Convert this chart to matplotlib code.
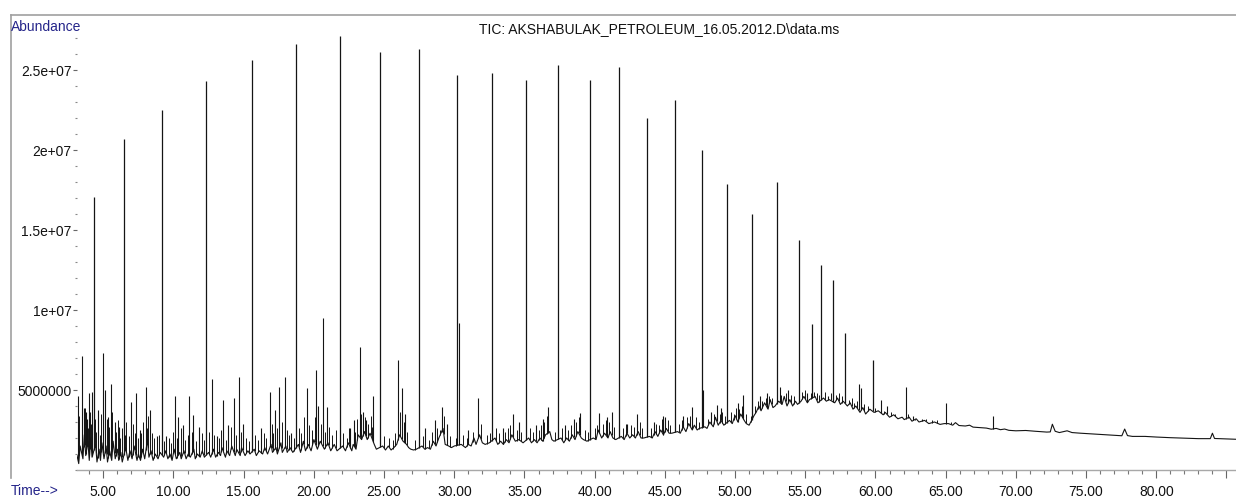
import numpy as np
import matplotlib
matplotlib.use("Agg")
import matplotlib.pyplot as plt
from matplotlib import font_manager
from matplotlib.lines import Line2D
from matplotlib.ticker import MultipleLocator

TITLE = "TIC: AKSHABULAK_PETROLEUM_16.05.2012.D\\data.ms"

# x axis (minutes)
x_ticks = [5, 10, 15, 20, 25, 30, 35, 40, 45, 50, 55, 60, 65, 70, 75, 80, 85]
x_labels = ["5.00", "10.00", "15.00", "20.00", "25.00", "30.00", "35.00", "40.00",
            "45.00", "50.00", "55.00", "60.00", "65.00", "70.00", "75.00", "80.00", ""]
# y axis (abundance)
y_ticks = [5e6, 1e7, 1.5e7, 2e7, 2.5e7]
y_labels = ["5000000", "1e+07", "1.5e+07", "2e+07", "2.5e+07"]

# signal trace: time (min), abundance (millions)
trace_t = [
    3.13, 3.25, 3.35, 3.55, 3.65, 3.75, 3.9, 4.0, 4.1, 4.2, 4.45, 4.55, 4.7, 4.8, 4.9,
    5.05, 5.2, 5.3, 5.45, 5.6, 5.7, 5.85, 6.0, 6.1, 6.25, 6.35, 6.6, 6.75, 6.9, 7.05,
    7.2, 7.4, 7.5, 7.65, 7.8, 7.95, 8.15, 8.25, 8.4, 8.55, 8.7, 8.9, 9.05, 9.3, 9.45,
    9.6, 9.75, 9.9, 10.05, 10.2, 10.45, 10.55, 10.75, 10.9, 11.05, 11.2, 11.45, 11.55,
    11.7, 11.9, 12.05, 12.2, 12.5, 12.65, 12.85, 13.0, 13.2, 13.35, 13.45, 13.7, 13.8,
    14.0, 14.15, 14.4, 14.5, 14.75, 14.85, 15.1, 15.3, 15.45, 15.75, 15.9, 16.1, 16.35,
    16.5, 16.7, 16.95, 17.05, 17.3, 17.4, 17.65, 17.75, 18.0, 18.1, 18.3, 18.5, 18.9,
    19.05, 19.25, 19.4, 19.6, 19.8, 20.0, 20.25, 20.45, 20.75, 21.0, 21.2, 21.45, 21.65,
    22.05, 22.25, 22.45, 22.7, 22.8, 23.0, 23.15, 23.4, 23.6, 23.8, 24.0, 24.3, 24.45,
    24.9, 25.1, 25.3, 25.5, 25.7, 25.9, 26.1, 26.35, 26.6, 26.75, 26.9, 27.1, 27.3,
    27.7, 27.9, 28.1, 28.3, 28.5, 28.7, 28.9, 29.2, 29.35, 29.6, 29.8, 30.0,
    30.5, 30.8, 31.0, 31.2, 31.4, 31.55, 31.8, 32.0, 32.2, 32.5, 32.9, 33.1, 33.3, 33.5,
    33.7, 33.9, 34.1, 34.35, 34.6, 34.9, 35.3, 35.5, 35.7, 35.9, 36.1, 36.3, 36.5, 36.8,
    36.95, 37.1, 37.6, 37.8, 38.0, 38.2, 38.4, 38.6, 38.8, 39.05, 39.2, 39.45, 39.9,
    40.1, 40.25, 40.5, 40.7, 40.95, 41.1, 41.3, 41.5, 41.9, 42.1, 42.3, 42.5, 42.7, 42.9,
    43.1, 43.3, 43.5, 43.9, 44.1, 44.3, 44.5, 44.7, 44.9, 45.1, 45.3, 45.5, 45.9, 46.1,
    46.3, 46.5, 46.7, 46.95, 47.1, 47.3, 47.45, 47.85, 48.0, 48.2, 48.45, 48.6, 48.8,
    49.0, 49.2, 49.6, 49.8, 50.0, 50.2, 50.4, 50.65, 50.8, 51.0, 51.35, 51.5, 51.7,
    51.85, 52.1, 52.35, 52.5, 52.7, 52.85, 53.1, 53.35, 53.5, 53.7, 53.9, 54.1, 54.3,
    54.45, 54.7, 54.9, 55.15, 55.3, 55.7, 55.9, 56.3, 56.5, 56.7, 57.1, 57.3, 57.5, 57.7,
    58.0, 58.2, 58.4, 58.6, 58.9, 59.1, 59.3, 59.6, 59.9,
    60.2, 60.55, 60.7, 61.0, 61.3, 61.6, 61.9, 62.05, 62.4, 62.6, 62.9, 63.1, 63.5, 63.8,
    64.2, 64.6, 64.9, 65.2, 65.5, 65.7, 65.95, 66.4, 66.7, 66.95, 67.4, 67.9, 68.25,
    68.6, 68.9, 69.2, 69.5, 70.0, 70.7, 71.4, 72.2, 72.45, 72.6, 72.8, 73.1, 73.65, 74.0,
    74.6, 75.5, 76.5, 77.2, 77.55, 77.75, 77.95, 78.3, 79.2, 80.0, 81.0, 82.0, 83.0,
    83.85, 84.0, 84.15, 85.0, 85.7,
]
trace_y = [
    0.9, 0.4, 1.5, 0.7, 2.2, 0.9, 1.8, 0.6, 2.0, 0.8, 1.6, 0.5, 1.3, 0.6, 1.7,
    0.7, 1.5, 0.5, 1.2, 0.6, 1.8, 0.7, 1.3, 0.6, 1.1, 0.5, 1.4, 0.6, 1.2, 0.7,
    1.5, 0.6, 1.0, 0.6, 1.3, 0.7, 1.9, 0.8, 1.2, 0.6, 1.0, 0.7, 1.1, 0.8, 1.2,
    0.7, 1.0, 0.6, 1.3, 0.7, 1.1, 0.7, 1.2, 0.7, 1.0, 0.8, 1.3, 0.7,
    1.0, 0.8, 1.2, 0.8, 1.1, 0.8, 1.3, 0.8, 1.1, 0.9, 1.4, 0.8, 1.2,
    0.9, 1.5, 0.9, 1.3, 0.9, 1.4, 0.9, 1.2, 1.0, 1.3, 0.9, 1.2, 1.0,
    1.4, 1.0, 1.6, 1.1, 1.4, 1.0, 1.7, 1.1, 1.5, 1.1, 1.4, 1.1, 1.6,
    1.1, 1.8, 1.2, 1.6, 1.2, 1.9, 1.3, 1.8, 1.3, 1.7, 1.2, 1.6, 1.2,
    1.5, 1.2, 1.7, 1.2, 1.6, 1.3, 2.2, 1.9, 2.4, 1.9, 2.3, 1.6, 1.3,
    1.5, 1.25, 1.5, 1.25, 1.4, 1.6, 2.2, 1.8, 1.6, 1.4, 1.3, 1.25, 1.3,
    1.5, 1.3, 1.4, 1.3, 1.8, 1.5, 2.0, 2.6, 1.6, 1.5, 1.4, 1.5,
    1.6, 1.4, 1.6, 1.5, 2.0, 1.6, 2.2, 1.7, 1.6, 1.7, 2.0, 1.6, 1.8, 1.6,
    1.9, 1.7, 2.2, 1.8, 1.9, 1.7, 2.0, 1.7, 1.9, 1.7, 2.0, 1.8, 2.2, 2.4,
    1.9, 1.8, 2.0, 1.7, 2.0, 1.8, 2.2, 1.9, 2.4, 2.0, 1.9, 1.8, 2.0,
    1.9, 2.5, 2.0, 2.3, 2.0, 2.4, 2.0, 1.9, 2.1, 1.9, 2.3, 2.0, 2.2, 2.0,
    2.4, 2.0, 2.0, 2.1, 2.0, 2.4, 2.1, 2.5, 2.2, 2.6, 2.3, 2.3, 2.4, 2.3,
    2.7, 2.4, 2.9, 2.5, 2.8, 2.5, 2.6, 2.7, 2.6, 3.0, 2.7, 3.3, 2.8,
    3.1, 2.8, 3.1, 2.9, 3.4, 3.0, 3.5, 3.1, 2.9, 2.8, 3.4, 3.6, 4.0,
    3.7, 4.2, 3.8, 4.4, 3.9, 4.0, 4.3, 4.1, 4.6, 4.0, 4.4, 4.0, 4.3,
    4.1, 4.3, 4.6, 4.2, 4.4, 4.6, 4.2, 4.5, 4.3, 4.4, 4.2, 4.5, 4.1, 4.3,
    4.0, 4.2, 3.8, 4.0, 3.6, 3.9, 3.5, 3.8, 3.6,
    3.7, 3.45, 3.6, 3.3, 3.45, 3.2, 3.3, 3.15, 3.3, 3.05, 3.2, 3.0, 3.1, 2.9,
    3.0, 2.85, 2.9, 2.9, 2.8, 2.96, 2.78, 2.75, 2.8, 2.68, 2.65, 2.62, 2.55,
    2.6, 2.52, 2.56, 2.48, 2.45, 2.47, 2.42, 2.37, 2.38, 2.86, 2.42, 2.34, 2.45, 2.34,
    2.3, 2.25, 2.2, 2.16, 2.14, 2.56, 2.15, 2.1, 2.1, 2.06, 2.02, 1.99, 1.96,
    1.96, 2.3, 1.97, 1.94, 1.92,
]

# n-alkane series and other tall peaks: time (min), apex (millions)
major_t = [4.34, 6.47, 9.18, 12.31, 15.59, 18.72, 21.85, 24.7, 27.49, 30.19, 32.69,
           35.11, 37.39, 39.67, 41.73, 43.73, 45.72, 47.64, 49.42, 51.2, 52.98, 54.55,
           55.5, 56.14, 56.95, 57.83, 59.8]
major_h = [17.06, 20.7, 22.5, 24.3, 25.6, 26.6, 27.1, 26.1, 26.3, 24.7, 24.8,
           24.4, 25.3, 24.4, 25.2, 22.0, 23.1, 20.0, 17.9, 16.0, 18.0, 14.4,
           9.1, 12.8, 11.9, 8.56, 6.9]

# medium spikes: time (min), apex (millions)
minor_t = [3.2, 3.46, 3.6, 3.77, 3.85, 3.97, 4.22, 4.6, 4.96, 5.12, 5.35, 5.53, 5.8,
           6.12, 6.97, 7.33, 7.61, 8.04, 8.33, 8.8, 9.5, 10.13, 10.34, 10.7, 11.13,
           11.37, 11.84, 12.74, 13.07, 13.55, 13.9, 14.31, 14.64, 14.93, 16.25, 16.87,
           17.23, 17.54, 17.92, 18.4, 19.49, 20.15, 20.32, 20.63, 20.91, 22.6, 22.85,
           23.28, 23.5, 23.7, 24.23, 26.0, 26.25, 26.5, 27.9, 28.62, 29.1, 29.5, 30.36,
           31.0, 31.71, 33.5, 34.2, 34.6, 35.8, 36.3, 36.7, 37.9, 38.5, 38.95, 40.33,
           40.9, 41.2, 42.3, 43.0, 44.2, 44.9, 45.0, 46.3, 46.9, 47.75, 48.3, 48.7,
           49.0, 50.2, 50.6, 51.8, 52.3, 53.2, 53.8, 55.1, 56.6, 58.8, 59.0, 60.4,
           60.8, 62.17, 62.7, 63.3, 65.0, 68.4]
minor_h = [4.6, 7.1, 3.9, 3.65, 3.2, 4.8, 4.9, 3.75, 7.3, 5.0, 3.3, 5.4, 3.0,
           2.7, 4.27, 4.8, 2.5, 5.2, 3.75, 2.1, 2.1, 4.6, 3.3, 2.8, 4.6,
           3.45, 2.7, 5.67, 2.1, 4.4, 2.8, 4.48, 5.83, 2.9, 2.6, 4.9,
           3.75, 5.2, 5.83, 2.3, 5.1, 6.25, 4.0, 9.5, 3.96, 2.6, 3.1,
           7.7, 3.6, 3.1, 4.6, 6.9, 5.1, 3.5, 2.6, 3.1, 3.96, 2.9, 9.2,
           2.5, 4.5, 2.6, 3.5, 3.0, 2.8, 3.2, 3.96, 2.8, 3.2, 3.54, 3.54,
           3.3, 3.6, 2.9, 3.5, 3.0, 3.4, 3.3, 3.4, 3.96, 5.0, 3.6, 4.06,
           3.9, 4.2, 4.7, 4.6, 4.8, 5.2, 5.0, 4.8, 4.6, 5.4, 5.1, 4.4,
           4.0, 5.2, 3.4, 3.2, 4.2, 3.4]

# low "grass" spikes over the baseline: time (min), apex (millions)
grass_t = [3.3, 3.5, 3.7, 3.93, 4.05, 4.15, 4.4, 4.5, 4.65, 4.75, 4.85, 5.0, 5.25, 5.4,
           5.65, 5.9, 6.05, 6.2, 6.3, 6.55, 6.65, 6.8, 7.1, 7.25, 7.45, 7.7, 7.85, 8.1,
           8.2, 8.45, 8.6, 9.0, 9.35, 9.65, 9.85, 10.0, 10.25, 10.5, 10.8, 11.0, 11.3,
           11.6, 12.0, 12.15, 12.55, 12.9, 13.25, 13.4, 13.75, 14.1, 14.45, 14.8, 15.2,
           15.4, 15.8, 16.05, 16.45, 16.6, 17.0, 17.1, 17.35, 17.7, 18.05, 18.2, 18.55,
           18.95, 19.1, 19.3, 19.65, 19.9, 20.05, 20.5, 20.8, 21.05, 21.3, 21.55, 22.1,
           22.35, 22.5, 22.95, 23.1, 23.35, 23.65, 23.85, 24.05, 24.15, 25.0, 25.35,
           25.6, 25.8, 26.15, 26.4, 26.65, 27.2, 27.75, 28.2, 28.4, 28.8, 29.0, 29.25,
           29.7, 30.1, 30.6, 30.9, 31.3, 31.9, 32.3, 32.55, 33.0, 33.2, 33.6, 33.8, 34.0,
           34.45, 34.75, 35.4, 35.6, 36.0, 36.2, 36.4, 36.6, 37.2, 37.7, 38.1, 38.3,
           38.7, 38.85, 39.3, 39.5, 40.0, 40.2, 40.6, 40.8, 41.05, 41.4, 42.0, 42.2,
           42.6, 42.8, 43.2, 43.4, 44.0, 44.4, 44.6, 44.8, 45.2, 45.4, 46.0, 46.2, 46.6,
           46.8, 47.2, 47.4, 48.1, 48.5, 48.9, 49.1, 49.3, 49.7, 49.9, 50.1, 50.3, 50.5,
           50.75, 51.1, 51.45, 51.6, 51.95, 52.2, 52.45, 52.6, 53.0, 53.3, 53.6, 54.0,
           54.2, 54.8, 55.0, 55.4, 55.6, 55.8, 56.0, 56.4, 56.8, 57.2, 57.4, 57.6, 58.1,
           58.3, 58.5, 58.7, 59.2, 59.5, 60.0, 60.6, 61.1, 61.4, 62.3, 62.8, 63.6, 64.0,
           64.4, 65.35]
grass_h = [3.4, 2.8, 3.9, 2.6, 3.6, 2.9, 3.2, 2.4, 3.1, 2.2, 3.5, 2.6, 3.2, 2.7,
           3.6, 2.4, 3.1, 2.0, 2.6, 2.2, 3.0, 2.1, 2.9, 2.3, 2.0, 2.3, 3.0, 2.6,
           3.4, 2.3, 2.0, 2.2, 1.8, 2.0, 1.7, 2.4, 2.0, 2.6, 1.9, 2.2, 2.4,
           1.8, 2.3, 1.9, 2.4, 2.2, 2.0, 2.5, 1.9, 2.7, 2.2, 2.4, 2.0,
           1.8, 2.2, 1.9, 2.3, 2.0, 2.9, 2.3, 2.6, 3.0, 2.5, 2.2, 2.0,
           2.6, 2.3, 3.3, 2.8, 2.5, 3.3, 2.9, 2.4, 2.7, 2.2, 2.5, 2.3,
           2.0, 2.6, 2.4, 3.2, 3.5, 3.3, 2.9, 3.4, 2.7, 2.1, 2.0,
           1.9, 2.3, 3.6, 3.0, 2.4, 1.9, 2.1, 1.9, 2.4, 2.6, 2.5, 3.4,
           2.1, 2.0, 2.2, 2.0, 2.4, 2.9, 2.2, 2.3, 2.6, 2.3, 2.4, 2.6, 2.8,
           2.5, 2.4, 2.6, 2.4, 2.5, 2.8, 3.0, 3.4, 2.4, 2.6, 2.5, 2.8,
           3.0, 3.3, 2.5, 2.4, 2.6, 2.8, 2.9, 3.1, 3.0, 2.7, 2.6, 2.9,
           2.8, 2.7, 3.0, 2.6, 2.6, 2.9, 2.8, 3.2, 3.1, 2.8, 2.9, 3.1, 3.3,
           3.4, 3.3, 3.0, 3.2, 3.5, 3.5, 3.6, 3.4, 3.6, 3.5, 3.9, 3.8, 4.0,
           3.5, 3.4, 4.0, 4.3, 4.3, 4.5, 4.6, 4.5, 4.5, 4.7, 4.8, 4.7,
           4.6, 4.9, 5.0, 4.8, 4.9, 4.8, 4.7, 4.9, 4.8, 4.7, 4.8, 4.6, 4.4,
           4.5, 4.2, 4.3, 4.1, 4.0, 3.9, 3.7, 3.6, 3.5, 3.5, 3.2, 3.2, 3.15,
           3.1, 3.0]

names = {f.name for f in font_manager.fontManager.ttflist}
if "Liberation Sans Narrow" in names:
    FONT, FS = "Liberation Sans Narrow", 11.5
else:
    FONT, FS = "Liberation Sans", 10
plt.rcParams["font.family"] = [FONT, "DejaVu Sans"]

W, H = 1236, 498
fig = plt.figure(figsize=(W / 100, H / 100), dpi=100)
ax = fig.add_axes([77 / W, 28 / H, 1159 / W, 435 / H])

ink = "#141414"
tt = np.array(trace_t)
ty = np.array(trace_y) * 1e6
ax.plot(tt, ty, color=ink, lw=0.8)

gt = np.array(grass_t)
ax.vlines(gt, np.interp(gt, tt, ty), np.array(grass_h) * 1e6, color=ink, lw=0.7)
nt = np.array(minor_t)
ax.vlines(nt, np.interp(nt, tt, ty), np.array(minor_h) * 1e6, color=ink, lw=0.8)
mt = np.array(major_t)
ax.vlines(mt, np.interp(mt, tt, ty), np.array(major_h) * 1e6, color=ink, lw=0.9)

ax.set_xlim(3.127, 85.68)
ax.set_ylim(0, 435 * 62500)

for s in ["top", "right", "left"]:
    ax.spines[s].set_visible(False)
ax.spines["bottom"].set_color("#a8a8a8")
ax.spines["bottom"].set_linewidth(1.0)

ax.set_xticks(x_ticks)
ax.set_xticklabels(x_labels)
ax.xaxis.set_minor_locator(MultipleLocator(1))
ax.set_yticks(y_ticks)
ax.set_yticklabels(y_labels)
ax.yaxis.set_minor_locator(MultipleLocator(1e6))

ax.tick_params(axis="x", which="major", length=6, width=0.8, color="#666666",
               pad=5, labelsize=FS, labelcolor="#111111")
ax.tick_params(axis="x", which="minor", length=3, width=0.8, color="#777777")
ax.tick_params(axis="y", which="major", length=3, width=0.8, color="#666666",
               pad=1, labelsize=FS, labelcolor="#111111")
ax.tick_params(axis="y", which="minor", length=1.5, width=0.8, color="#888888")

navy = "#25258a"
fig.text(11 / W, 1 - 31 / H, "Abundance", color=navy, fontsize=FS, ha="left", va="baseline")
fig.text(659 / W, 1 - 33 / H, TITLE, color="#111111", fontsize=FS, ha="center", va="baseline")
fig.text(11 / W, 1 - 495 / H, "Time-->", color=navy, fontsize=FS, ha="left", va="baseline")

# outer frame (top and left edges)
fig.add_artist(Line2D([11 / W, 1], [1 - 15 / H, 1 - 15 / H], color="#a0a0a0", lw=1.2))
fig.add_artist(Line2D([11 / W, 11 / W], [1 - 15 / H, 1 - 478 / H], color="#a0a0a0", lw=1.2))

fig.savefig("out.png", dpi=100)
